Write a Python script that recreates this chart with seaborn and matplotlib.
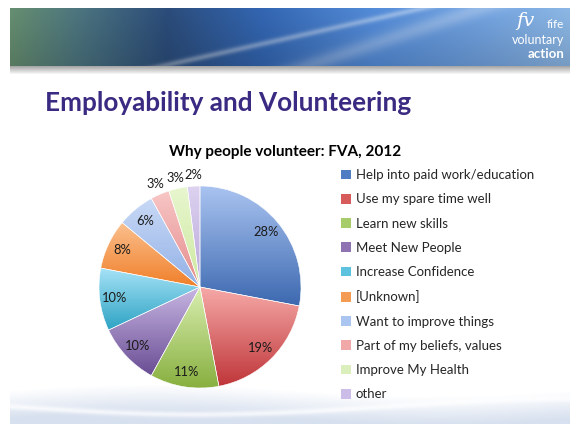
import numpy as np
import pandas as pd
import matplotlib.pyplot as plt
import seaborn as sns
from matplotlib.patches import Patch

# data
reasons = ['Help into paid work/education', 'Use my spare time well', 'Learn new skills',
           'Meet New People', 'Increase Confidence', '[Unknown]', 'Want to improve things',
           'Part of my beliefs, values', 'Improve My Health', 'other']
shares = [28, 19, 11, 10, 10, 8, 6, 3, 3, 2]
pct_labels = ['28%', '19%', '11%', '10%', '10%', '8%', '6%', '3%', '3%', '2%']

# slice colours: (light top, dark bottom)
light = ['#a9c3f0', '#f6aaa8', '#d9eeb0', '#c7b6e2', '#a5e2f6', '#fbc08e', '#c8d9f6', '#f8c6c6', '#e8f6cf', '#ddd2f0']
dark = ['#3d69b0', '#c0363a', '#88b040', '#6a4d94', '#2ea3c4', '#f07f2a', '#93b1e6', '#e58c8c', '#cde9a0', '#b7a6da']
mid = sns.color_palette(['#4f7cc2', '#d85b5b', '#a7cc6a', '#8f72b2', '#5cc2de', '#f59c54',
                         '#aac5f0', '#f0a8a8', '#dbefbc', '#cbbde8'])

sns.set_style('white')
plt.rcParams['font.family'] = ['Lato', 'DejaVu Sans']

fig = plt.figure(figsize=(5.79, 4.24), dpi=100)

# slide background
bg = fig.add_axes([0, 0, 1, 1])
bg.set_xlim(0, 579)
bg.set_ylim(424, 0)
bg.axis('off')

# banner
W, H = 560, 58
xs = np.linspace(0, 1, W)
stops = [0, 0.12, 0.28, 0.45, 0.65, 0.85, 1.0]
cols = np.array([[0.40, 0.56, 0.44], [0.30, 0.46, 0.50], [0.17, 0.30, 0.48], [0.20, 0.40, 0.70],
                 [0.33, 0.55, 0.85], [0.45, 0.64, 0.88], [0.55, 0.72, 0.90]])
row = np.stack([np.interp(xs, stops, cols[:, k]) for k in range(3)], axis=1)
img = np.repeat(row[None, :, :], H, axis=0)
yy, xx = np.mgrid[0:H, 0:W]
streak = np.exp(-((xx - 150 - (H - yy) * 4.5) / 14.0) ** 2) * 0.35
streak2 = np.exp(-((xx - 470 + yy * 3.0) / 25.0) ** 2) * 0.25
img = img + (streak + streak2)[:, :, None] * (1 - img)
img = img * (1 - 0.15 * (yy / H))[:, :, None]
bg.imshow(np.clip(img, 0, 1), extent=[10, 570, 66, 8], aspect='auto', zorder=1)
shadow = np.zeros((10, 2, 4))
shadow[:, :, 3] = np.linspace(0.35, 0, 10)[:, None]
bg.imshow(shadow, extent=[10, 570, 75, 66], aspect='auto', zorder=1)
bg.text(525, 21, 'fv', color='white', fontsize=14, style='italic', ha='center', va='center',
        family='DejaVu Serif', zorder=2)
bg.text(564, 25, 'fife', color='white', fontsize=8.5, ha='right', va='center', zorder=2)
bg.text(564, 40, 'voluntary', color='white', fontsize=9, ha='right', va='center', zorder=2)
bg.text(564, 54, 'action', color='white', fontsize=9.5, weight='bold', ha='right', va='center', zorder=2)

# bottom swoosh
bh = 40
yb, xb = np.mgrid[0:bh, 0:W]
sw = np.zeros((bh, W, 4))
sw[:, :, 0], sw[:, :, 1], sw[:, :, 2] = 0.78, 0.83, 0.91
a = np.clip((yb - 6 + np.sin(xb / 90.0) * 6) / 28.0, 0, 1) * 0.7
wave = np.exp(-((yb - 22 - np.sin(xb / 120.0) * 8) / 3.0) ** 2)
sw[:, :, 3] = a * (1 - 0.7 * wave)
bg.imshow(sw, extent=[10, 570, 424, 384], aspect='auto', zorder=0)

bg.text(45, 103, 'Employability and Volunteering', color='#3a2a82', fontsize=18.8,
        weight='bold', ha='left', va='center', zorder=3)
bg.text(285, 152, 'Why people volunteer: FVA, 2012', color='black', fontsize=11,
        weight='bold', ha='center', va='center', zorder=3)

# pie
R = 101
cx, cy = 200, 287
ax = fig.add_axes([(cx - R) / 579, (424 - cy - R) / 424, 2 * R / 579, 2 * R / 424])
df = pd.DataFrame({'reason': reasons, 'share': shares})
wedges, _ = ax.pie(df['share'], colors=mid, startangle=90, counterclock=False,
                   wedgeprops=dict(edgecolor='white', linewidth=0.4))
ax.set_xlim(-1, 1)
ax.set_ylim(-1, 1)
ax.set_aspect('equal')
ax.axis('off')

for w, lc, dc in zip(wedges, light, dark):
    grad = np.array(sns.blend_palette([lc, dc], 64))[:, None, :]
    bb = w.get_path().get_extents(w.get_transform()).transformed(ax.transData.inverted())
    im = ax.imshow(grad, extent=[bb.x0, bb.x1, bb.y0, bb.y1], origin='upper', aspect='auto',
                   zorder=1)
    im.set_clip_path(w)
    w.set_zorder(2)
    w.set_facecolor('none')

cum = np.cumsum([0] + shares)
for i, lab in enumerate(pct_labels):
    ang = np.deg2rad(90 - (cum[i] + shares[i] / 2) * 3.6)
    r = 0.85 if shares[i] > 4 else 1.11
    ax.text(r * np.cos(ang), r * np.sin(ang), lab, ha='center', va='center', fontsize=9.3,
            color='#1a1a1a', zorder=3, clip_on=False)

# legend
handles = [Patch(facecolor=c, edgecolor='none') for c in mid]
fig.legend(handles, reasons, loc='upper left', bbox_to_anchor=(341 / 579, 1 - 169 / 424),
           frameon=False, fontsize=9.5, handlelength=0.75, handleheight=0.75,
           handletextpad=0.35, labelspacing=0.93, borderpad=0, borderaxespad=0)

fig.savefig('out.png', dpi=100)
